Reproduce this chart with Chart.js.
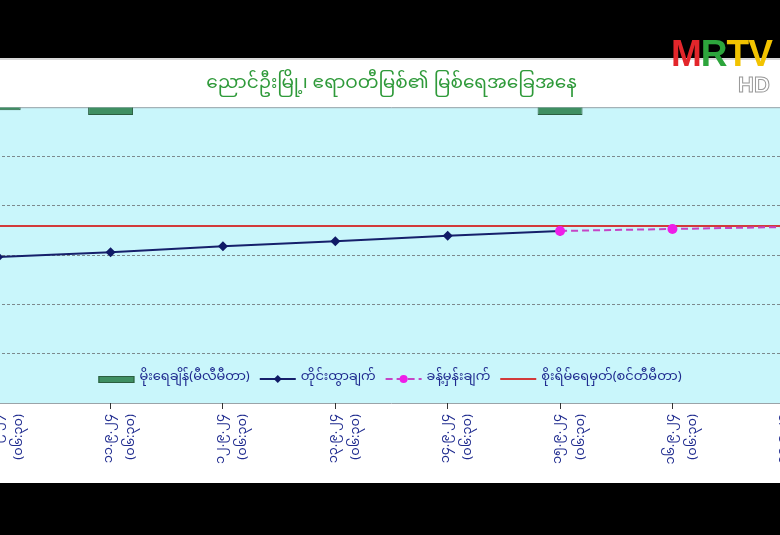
<!DOCTYPE html>
<html>
<head>
<meta charset="utf-8">
<script src="https://cdn.jsdelivr.net/npm/chart.js@4.4.1/dist/chart.umd.min.js"></script>
<style>
  html, body { margin: 0; padding: 0; background: #000; }
  #screen { position: relative; width: 780px; height: 535px; overflow: hidden; background: #000; }
  #panel { position: absolute; left: 0; top: 58px; width: 780px; height: 425px; background: #fff;
           border-top: 2px solid #d8d8d8; box-sizing: border-box; }
  #wrap { position: absolute; left: -75px; top: 58px; width: 940px; height: 425px; }
  #logo { position: absolute; left: 671px; top: 33px; font: bold 37px "Liberation Sans", Arial, sans-serif;
          letter-spacing: -1px; }
  #hd { position: absolute; left: 738px; top: 72px; font: bold 22px "Liberation Sans", Arial, sans-serif;
        color: #fff; -webkit-text-stroke: 1px #999; }
</style>
</head>
<body>
<div id="screen">
  <div id="panel"></div>
  <div id="wrap"><canvas id="riverChart" width="940" height="425"></canvas></div>
  <div id="logo"><span style="color:#e3262b">M</span><span style="color:#2da53c">R</span><span style="color:#f2c300">T</span><span style="color:#f2c300">V</span></div>
  <div id="hd">HD</div>
</div>
<script>
// Nyaung-U, Ayeyarwady river level (cm) with rainfall (mm)
var titleText = "ညောင်ဦးမြို့၊ ဧရာဝတီမြစ်၏ မြစ်ရေအခြေအနေ";

var dateLabels = ["၁၀.၉.၂၄", "၁၁.၉.၂၄", "၁၂.၉.၂၄", "၁၃.၉.၂၄", "၁၄.၉.၂၄", "၁၅.၉.၂၄", "၁၆.၉.၂၄", "၁၇.၉.၂၄"];
var timeLabel = "(၀၆:၃၀)";

var rainfall = [3, 8, 0, 0, 0, 8, 0, 0];
var measured = [4896, 4906, 4918, 4928, 4939, 4949, null, null];
var forecast = [null, null, null, null, null, 4949, 4953, 4957];
var dangerLevel = [4959, 4959, 4959, 4959, 4959, 4959, 4959, 4959];

var myFont = "'Noto Sans Myanmar', 'Padauk', 'Myanmar Text', 'Noto Sans', sans-serif";
var navy = "#1f2b8f";

var labels = dateLabels.map(function(d) { return [d, timeLabel]; });

// light cyan plot area with a grey frame line on top
var plotBackground = {
  id: "plotBackground",
  beforeDraw: function(chart) {
    var a = chart.chartArea, ctx = chart.ctx;
    ctx.save();
    ctx.fillStyle = "#c9f6fb";
    ctx.fillRect(a.left, a.top, a.right - a.left, a.bottom - a.top);
    ctx.strokeStyle = "#9aa3a8";
    ctx.lineWidth = 1;
    ctx.beginPath();
    ctx.moveTo(a.left, a.top + 0.5);
    ctx.lineTo(a.right, a.top + 0.5);
    ctx.moveTo(a.left, a.bottom + 0.5);
    ctx.lineTo(a.right, a.bottom + 0.5);
    ctx.stroke();
    ctx.restore();
  }
};

// legend drawn inside the plot area, near its bottom
var innerLegend = {
  id: "innerLegend",
  afterDraw: function(chart) {
    var ctx = chart.ctx, a = chart.chartArea;
    var y = a.bottom - 24;
    var markW = 36;
    ctx.save();
    ctx.font = "13px " + myFont;
    var sets = chart.data.datasets;
    var total = 0;
    sets.forEach(function(ds) { total += markW + 5 + ctx.measureText(ds.label).width + 10; });
    var x = 470 - total / 2;
    sets.forEach(function(ds) {
      if (ds.type === "bar") {
        ctx.fillStyle = ds.backgroundColor;
        ctx.strokeStyle = ds.borderColor;
        ctx.fillRect(x, y - 3, markW, 7);
        ctx.strokeRect(x + 0.5, y - 2.5, markW - 1, 6);
      } else {
        ctx.strokeStyle = ds.borderColor;
        ctx.lineWidth = ds.borderWidth;
        ctx.setLineDash(ds.borderDash || []);
        ctx.beginPath();
        ctx.moveTo(x, y);
        ctx.lineTo(x + markW, y);
        ctx.stroke();
        ctx.setLineDash([]);
        if (ds.pointRadius > 0) {
          ctx.fillStyle = ds.pointBackgroundColor;
          ctx.beginPath();
          if (ds.pointStyle === "rectRot") {
            var r = 4;
            ctx.moveTo(x + markW / 2, y - r);
            ctx.lineTo(x + markW / 2 + r, y);
            ctx.lineTo(x + markW / 2, y + r);
            ctx.lineTo(x + markW / 2 - r, y);
          } else {
            ctx.arc(x + markW / 2, y, 4, 0, Math.PI * 2);
          }
          ctx.fill();
        }
      }
      x += markW + 5;
      ctx.fillStyle = navy;
      ctx.textBaseline = "middle";
      ctx.textAlign = "left";
      ctx.fillText(ds.label, x, y);
      x += ctx.measureText(ds.label).width + 10;
    });
    ctx.restore();
  }
};

var riverChart = new Chart(document.getElementById("riverChart"), {
  type: "bar",
  data: {
    labels: labels,
    datasets: [
      {
        type: "bar",
        label: "မိုးရေချိန်(မီလီမီတာ)",
        data: rainfall,
        yAxisID: "y1",
        backgroundColor: "#3f8f62",
        borderColor: "#2b5e40",
        borderWidth: 1,
        barPercentage: 0.8,
        categoryPercentage: 0.5,
        order: 4
      },
      {
        type: "line",
        label: "တိုင်းထွာချက်",
        data: measured,
        yAxisID: "y",
        borderColor: "#16206b",
        backgroundColor: "#16206b",
        borderWidth: 2,
        pointStyle: "rectRot",
        pointRadius: 5,
        pointBackgroundColor: "#0f1a66",
        pointBorderWidth: 0,
        order: 2
      },
      {
        type: "line",
        label: "ခန့်မှန်းချက်",
        data: forecast,
        yAxisID: "y",
        borderColor: "#c545c5",
        backgroundColor: "#ee1ee8",
        borderWidth: 2,
        borderDash: [7, 4],
        pointStyle: "circle",
        pointRadius: 5,
        pointBackgroundColor: "#ee1ee8",
        pointBorderWidth: 0,
        order: 1
      },
      {
        type: "line",
        label: "စိုးရိမ်ရေမှတ်(စင်တီမီတာ)",
        data: dangerLevel,
        yAxisID: "y",
        borderColor: "#d23a3a",
        borderWidth: 2,
        pointRadius: 0,
        order: 3
      }
    ]
  },
  options: {
    responsive: false,
    animation: false,
    layout: { padding: { left: 17, right: 24, top: 0, bottom: 0 } },
    plugins: {
      legend: { display: false },
      tooltip: { enabled: false },
      title: {
        display: true,
        text: titleText,
        color: "#2f9a3a",
        font: { family: myFont, size: 18.5, weight: "normal" },
        padding: { top: 17, bottom: 10 }
      }
    },
    scales: {
      x: {
        offset: true,
        grid: { offset: false, drawOnChartArea: false, color: "#333", tickLength: 6 },
        border: { display: false },
        ticks: {
          color: navy,
          font: { family: myFont, size: 13, lineHeight: 1.7 },
          minRotation: 90,
          maxRotation: 90,
          autoSkip: false,
          padding: 5
        },
        afterFit: function(s) { s.height = 80; }
      },
      y: {
        min: 4600,
        max: 5200,
        ticks: { stepSize: 100, display: false },
        grid: {
          drawTicks: false,
          color: function(c) {
            if (c.tick && (c.tick.value === 4600 || c.tick.value === 5200)) return "rgba(0,0,0,0)";
            return "#7d8a8e";
          }
        },
        border: { display: false, dash: [3, 2] },
        afterFit: function(s) { s.width = 0; }
      },
      y1: {
        display: false,
        reverse: true,
        min: 0,
        max: 300
      }
    }
  },
  plugins: [plotBackground, innerLegend]
});
</script>
</body>
</html>
